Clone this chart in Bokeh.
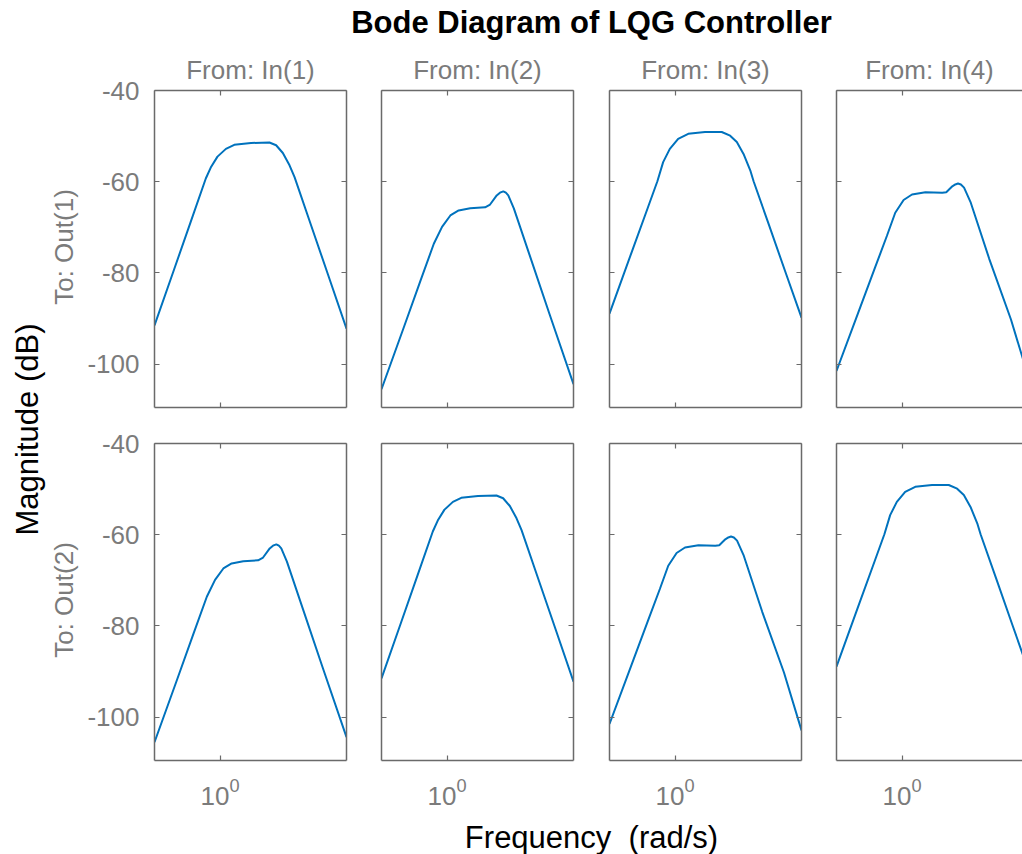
import math
from bokeh.plotting import figure
from bokeh.models import Range1d, FixedTicker, LinearAxis, LogAxis, CustomJSTickFormatter
from bokeh.layouts import column, row
from bokeh.embed import file_html
from bokeh.resources import INLINE
from bokeh.core.properties import value

# ---------------- data ----------------
freq_a = [0.389, 0.515, 0.655, 0.814, 0.874, 0.963, 1.087, 1.226, 1.560, 2.034, 2.240, 2.467, 2.716, 2.920, 3.716, 4.729, 6.166]
mag_a = [-91.5, -79.3, -68.8, -59.3, -56.9, -54.5, -52.8, -51.9, -51.5, -51.4, -52.0, -53.7, -56.4, -59.0, -69.7, -80.4, -92.2]

freq_b = [0.389, 0.538, 0.682, 0.826, 0.930, 1.048, 1.181, 1.395, 1.728, 1.856, 2.042, 2.140, 2.246, 2.330, 2.412, 2.616, 3.287, 4.375, 6.166]
mag_b = [-105.5, -91.8, -81.7, -73.6, -69.9, -67.4, -66.3, -65.8, -65.6, -65.0, -63.0, -62.4, -62.1, -62.4, -63.0, -65.9, -76.2, -89.1, -104.4]

freq_c = [0.389, 0.532, 0.677, 0.775, 0.842, 0.927, 1.045, 1.208, 1.538, 1.957, 2.208, 2.431, 2.677, 2.949, 3.094, 3.845, 4.892, 6.166]
mag_c = [-88.9, -75.7, -65.6, -59.9, -55.7, -52.8, -50.6, -49.5, -49.1, -49.1, -49.9, -51.3, -53.9, -57.5, -59.9, -69.3, -79.8, -89.8]

freq_d = [0.389, 0.532, 0.678, 0.803, 0.906, 1.022, 1.153, 1.399, 1.782, 1.888, 2.060, 2.150, 2.236, 2.330, 2.439, 2.687, 3.504, 4.791, 6.166]
mag_d = [-101.5, -88.7, -78.8, -71.9, -66.8, -64.0, -62.8, -62.3, -62.4, -62.3, -61.0, -60.6, -60.4, -60.6, -61.3, -64.6, -76.9, -90.2, -102.9]

curves = {"A": (freq_a, mag_a), "B": (freq_b, mag_b), "C": (freq_c, mag_c), "D": (freq_d, mag_d)}
panel_curves = [["A", "B", "C", "D"], ["B", "A", "D", "C"]]

title_text = "Bode Diagram of LQG Controller"
in_labels = ["From: In(1)", "From: In(2)", "From: In(3)", "From: In(4)"]
out_labels = ["To: Out(1)", "To: Out(2)"]
y_label = "Magnitude (dB)"
x_label = "Frequency \u00a0(rad/s)"
y_ticks = [-40, -60, -80, -100]
x_ticks = [1]

# ---------------- layout / style ----------------
FONT = "Liberation Sans"
GRAY_TXT = "#7b7b7b"
FRAME = "#6a6a6a"
BLUE = "#0072BD"

top_h = 44
left_w = 84
col_w = [279, 228, 227, 204]
border_l = [70, 18, 18, 18]
border_r = [17, 18, 17, 0]
row_h = [381, 385]
border_t = [46, 18]
border_b = [18, 50]
bottom_h = 44
W = left_w + sum(col_w)
FRAME_W = 192
FRAME_H = 317
LOG_LO = -0.41
DEC_PX = 160.0
Y_LO, Y_HI = -109.5, -40


def style_axis(ax, show_labels, size="26px"):
    ax.axis_line_color = FRAME
    ax.axis_line_width = 1.5
    ax.major_tick_line_color = FRAME
    ax.major_tick_line_width = 1.2
    ax.major_tick_in = 5
    ax.major_tick_out = 0
    ax.minor_tick_line_color = None
    ax.major_label_text_font = FONT
    ax.major_label_text_color = GRAY_TXT
    if show_labels:
        ax.major_label_text_font_size = size
    else:
        ax.major_label_text_font_size = "1px"
        ax.major_label_text_alpha = 0
        ax.major_label_standoff = 0


rows = []
for r in range(2):
    figs = []
    for c in range(4):
        fw = col_w[c] - border_l[c] - border_r[c]
        hi = LOG_LO + fw / DEC_PX
        p = figure(width=col_w[c], height=row_h[r], x_axis_type="log",
                   x_range=Range1d(10 ** LOG_LO, 10 ** hi), y_range=Range1d(Y_LO, Y_HI),
                   min_border_left=border_l[c], min_border_right=border_r[c],
                   min_border_top=border_t[r], min_border_bottom=border_b[r],
                   toolbar_location=None, output_backend="svg",
                   outline_line_color=None, background_fill_color="white",
                   border_fill_color="white")
        p.xgrid.visible = False
        p.ygrid.visible = False
        if r == 0:
            p.title.text = in_labels[c]
            p.title.align = "center"
            p.title.text_font = FONT
            p.title.text_font_size = "26px"
            p.title.text_font_style = "normal"
            p.title.text_color = GRAY_TXT
            p.title.standoff = 11
        xa = p.below[0]
        xa.ticker = FixedTicker(ticks=x_ticks)
        style_axis(xa, r == 1)
        if r == 1:
            xa.major_label_standoff = 17
        ya = p.left[0]
        ya.ticker = FixedTicker(ticks=y_ticks)
        ya.formatter = CustomJSTickFormatter(code="return tick.toFixed(0);")
        style_axis(ya, c == 0)
        if c == 0:
            ya.major_label_standoff = 15
        top = LogAxis(ticker=FixedTicker(ticks=x_ticks))
        style_axis(top, False)
        p.add_layout(top, "above")
        if c < 3:
            right = LinearAxis(ticker=FixedTicker(ticks=y_ticks))
            style_axis(right, False)
            p.add_layout(right, "right")
        fx, my = curves[panel_curves[r][c]]
        p.line(fx, my, line_color=BLUE, line_width=2)
        figs.append(p)
    rows.append(row(*figs))


def strip(w, h):
    s = figure(width=w, height=h, x_range=Range1d(0, w), y_range=Range1d(0, h),
               x_axis_location=None, y_axis_location=None, min_border=0,
               toolbar_location=None, output_backend="svg", outline_line_color=None,
               background_fill_color="white", border_fill_color="white")
    s.grid.visible = False
    return s


# frame positions (page coordinates)
frame_left = []
acc = left_w
for c in range(4):
    frame_left.append(acc + border_l[c])
    acc += col_w[c]
mid_x = (frame_left[0] + frame_left[3] + FRAME_W) / 2
frame_top = [top_h + border_t[0], top_h + row_h[0] + border_t[1]]

top_s = strip(W, top_h)
top_s.text(x=[mid_x], y=[top_h - 22], text=[title_text], text_align="center", text_baseline="middle",
           text_font=value(FONT), text_font_style="bold", text_font_size="31px", text_color="#000000")

main_h = sum(row_h)
left_s = strip(left_w, main_h)


def page_to_left(py):
    return main_h - (py - top_h)


label_page_y = 429
left_s.text(x=[27], y=[page_to_left(label_page_y)], text=[y_label], angle=math.pi / 2,
            text_align="center", text_baseline="middle", text_font=value(FONT),
            text_font_size="31px", text_color="#000000")
out_y = [page_to_left(ft + FRAME_H / 2 - 2) for ft in frame_top]
left_s.text(x=[63, 63], y=out_y, text=out_labels, angle=math.pi / 2,
            text_align="center", text_baseline="middle", text_font=value(FONT),
            text_font_size="26px", text_color=GRAY_TXT)

bot_s = strip(W, bottom_h)
bot_s.text(x=[mid_x], y=[bottom_h - 27], text=[x_label], text_align="center", text_baseline="middle",
           text_font=value(FONT), text_font_size="31px", text_color="#000000")

layout = column(top_s, row(left_s, column(*rows)), bot_s)

with open("out.html", "w") as f:
    f.write(file_html(layout, INLINE))
